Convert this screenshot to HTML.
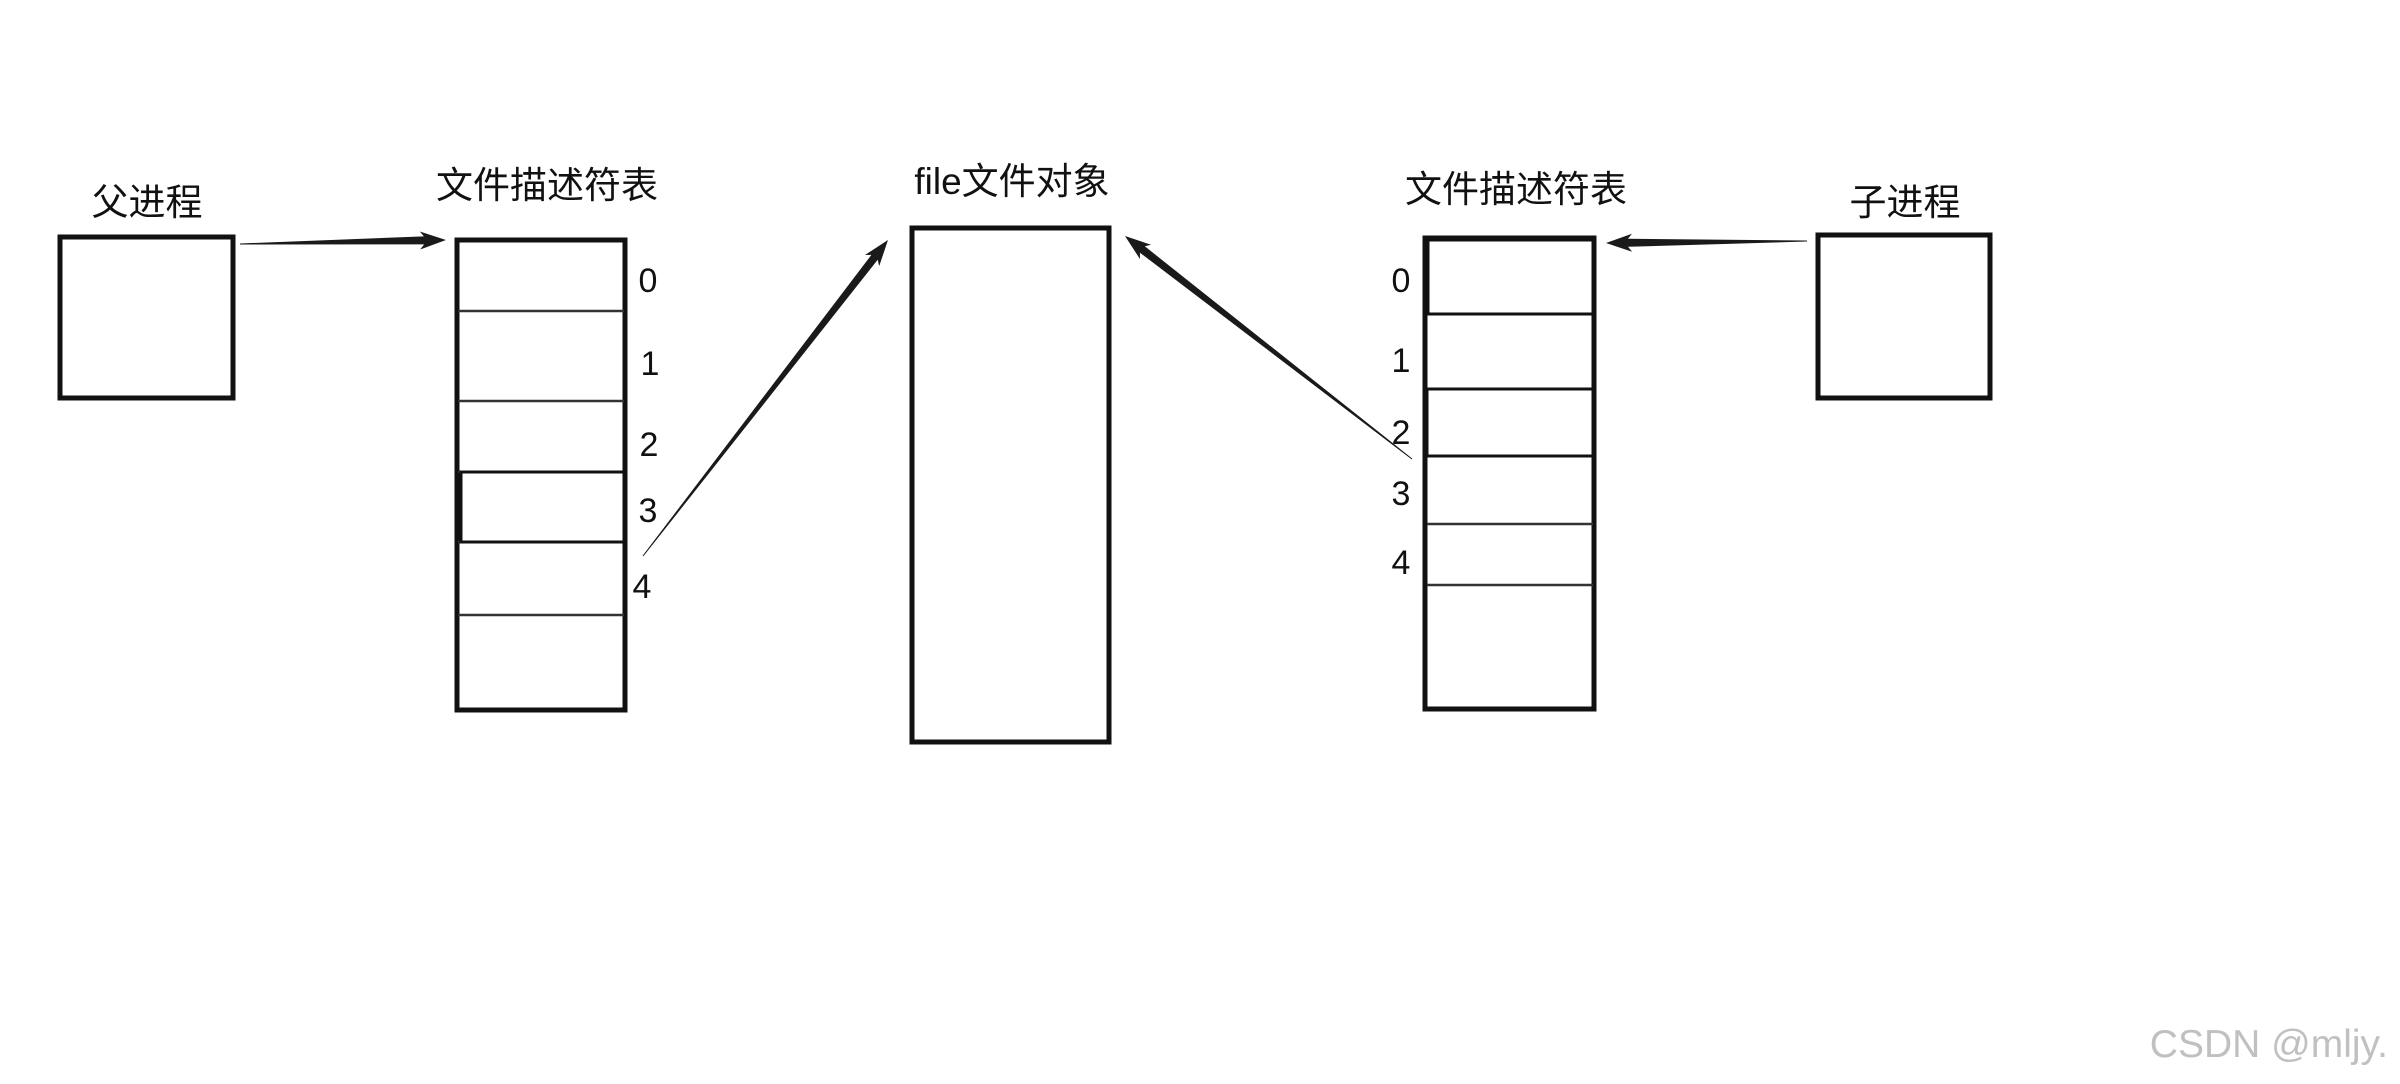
<!DOCTYPE html>
<html><head><meta charset="utf-8"><style>
html,body{margin:0;padding:0;background:#fff;}
body{width:2400px;height:1084px;position:relative;overflow:hidden;font-family:"Liberation Sans","Noto Sans CJK SC",sans-serif;}
</style></head><body>
<svg id="s" width="2400" height="1084" xmlns="http://www.w3.org/2000/svg" style="position:absolute;left:0;top:0">
<g fill="none" stroke="#111">
<rect x="60" y="237" width="173" height="161" stroke-width="5"/>
<rect x="457" y="240" width="168" height="470" stroke-width="5"/>
<g stroke-width="2.5" stroke="#333">
<line x1="458" y1="311" x2="624" y2="311"/><line x1="458" y1="401" x2="624" y2="401"/>
<line x1="458" y1="472" x2="624" y2="472"/><line x1="458" y1="542" x2="624" y2="542"/>
<line x1="458" y1="615" x2="624" y2="615"/>
</g>
<rect x="461" y="472" width="163" height="70" stroke-width="3"/>
<rect x="912" y="228" width="197" height="514" stroke-width="5"/>
<rect x="1425" y="238" width="169" height="471" stroke-width="5"/>
<g stroke-width="2.5" stroke="#333">
<line x1="1427" y1="314" x2="1593" y2="314"/><line x1="1427" y1="389" x2="1593" y2="389"/>
<line x1="1427" y1="456" x2="1593" y2="456"/><line x1="1427" y1="524" x2="1593" y2="524"/>
<line x1="1427" y1="585" x2="1593" y2="585"/>
</g>
<rect x="1428" y="240" width="165" height="74" stroke-width="3"/>
<rect x="1427" y="389" width="166" height="67" stroke-width="3"/>
<rect x="1818" y="235" width="172" height="163" stroke-width="5"/>
</g>
<g id="arr" fill="#1a1a1a"></g>
<g font-size="37" fill="#111" text-anchor="middle" font-family="Liberation Sans,Noto Sans CJK SC,sans-serif">
<text x="147" y="215">父进程</text>
<text x="547" y="198">文件描述符表</text>
<text x="1012" y="194">file文件对象</text>
<text x="1516" y="202">文件描述符表</text>
<text x="1905" y="215">子进程</text>
</g>
<g font-size="34" fill="#111" text-anchor="middle">
<text x="648" y="292">0</text><text x="650" y="375">1</text><text x="649" y="456">2</text>
<text x="648" y="522">3</text><text x="642" y="598">4</text>
<text x="1401" y="292">0</text><text x="1401" y="372">1</text><text x="1401" y="444">2</text>
<text x="1401" y="505">3</text><text x="1401" y="574">4</text>
</g>
<text x="2388" y="1057" font-size="39" fill="#c0c0c0" text-anchor="end">CSDN @mljy.</text>
</svg>
<script>
function arrow(x1,y1,x2,y2){
 var dx=x2-x1,dy=y2-y1,L=Math.hypot(dx,dy),ux=dx/L,uy=dy/L,nx=-uy,ny=ux;
 var h=22,hw=9,w0=0.5,w1=4;
 var bx=x2-ux*h,by=y2-uy*h;
 var p=[[x1+nx*w0,y1+ny*w0],[bx+nx*w1,by+ny*w1],[bx+nx*hw-ux*4,by+ny*hw-uy*4],[x2,y2],
 [bx-nx*hw-ux*4,by-ny*hw-uy*4],[bx-nx*w1,by-ny*w1],[x1-nx*w0,y1-ny*w0]];
 var e=document.createElementNS("http://www.w3.org/2000/svg","polygon");
 e.setAttribute("points",p.map(function(q){return q[0].toFixed(1)+","+q[1].toFixed(1)}).join(" "));
 document.getElementById("arr").appendChild(e);
}
arrow(240,244,446,240);
arrow(643,556,888,240);
arrow(1412,459,1125,236);
arrow(1807,241,1606,243);
</script>
</body></html>
